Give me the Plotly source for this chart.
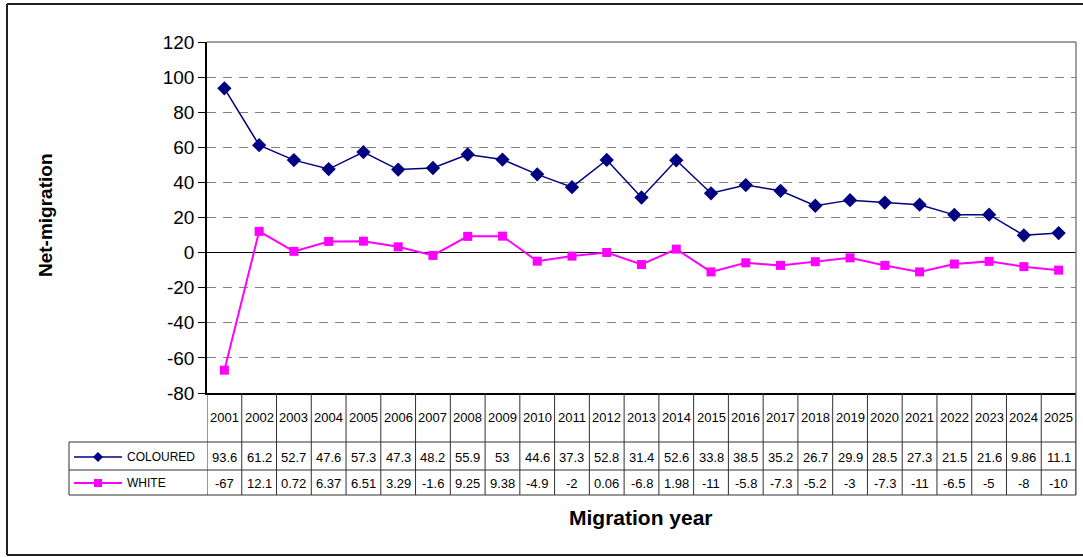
import plotly.graph_objects as go

years = [str(y) for y in range(2001, 2026)]
coloured = [93.6, 61.2, 52.7, 47.6, 57.3, 47.3, 48.2, 55.9, 53, 44.6, 37.3, 52.8, 31.4,
            52.6, 33.8, 38.5, 35.2, 26.7, 29.9, 28.5, 27.3, 21.5, 21.6, 9.86, 11.1]
white = [-67, 12.1, 0.72, 6.37, 6.51, 3.29, -1.6, 9.25, 9.38, -4.9, -2, 0.06, -6.8,
         1.98, -11, -5.8, -7.3, -5.2, -3, -7.3, -11, -6.5, -5, -8, -10]
y_ticks = [-80, -60, -40, -20, 0, 20, 40, 60, 80, 100, 120]

W, H = 1083, 557
def px(x):
    return x / W
def py(y):
    return 1 - y / H

NAVY = "#000080"
MAG = "#FF00FF"
FONT = "Liberation Sans, Arial, sans-serif"
LINE = "#303030"

plot_l, plot_r, plot_t, plot_b = 207, 1076, 42, 393
head_b, row1_b, row2_b, leg_l = 442, 470, 495, 69

fig = go.Figure()
fig.add_trace(go.Scatter(x=years, y=coloured, mode="lines+markers", name="COLOURED",
                         line=dict(color=NAVY, width=1.5),
                         marker=dict(symbol="diamond", size=11, color=NAVY)))
fig.add_trace(go.Scatter(x=years, y=white, mode="lines+markers", name="WHITE",
                         line=dict(color=MAG, width=2),
                         marker=dict(symbol="square", size=9, color=MAG)))

shapes = []
ann = []
# plot border top & right (gray)
shapes.append(dict(type="line", xref="paper", yref="paper", x0=px(plot_l), x1=px(plot_r),
                   y0=py(plot_t), y1=py(plot_t), line=dict(color="#808080", width=1.5)))
shapes.append(dict(type="line", xref="paper", yref="paper", x0=px(plot_r), x1=px(plot_r),
                   y0=py(plot_t), y1=py(row2_b), line=dict(color="#808080", width=1.5)))
# table column separators
for k in range(len(years) + 1):
    shapes.append(dict(type="line", xref="x", yref="paper", x0=k - 0.5, x1=k - 0.5,
                       y0=py(plot_b), y1=py(row2_b), line=dict(color=LINE, width=1)))
# horizontal table lines
for yy in (head_b, row1_b, row2_b):
    shapes.append(dict(type="line", xref="paper", yref="paper", x0=px(leg_l), x1=px(plot_r),
                       y0=py(yy), y1=py(yy), line=dict(color=LINE, width=1)))
shapes.append(dict(type="line", xref="paper", yref="paper", x0=px(leg_l), x1=px(leg_l),
                   y0=py(head_b), y1=py(row2_b), line=dict(color=LINE, width=1)))
# outer border
for (x0, y0, x1, y1) in [(7, 4, 1090, 4), (7, 4, 7, 555), (7, 555, 1090, 555)]:
    shapes.append(dict(type="line", xref="paper", yref="paper", x0=px(x0), x1=px(x1),
                       y0=py(y0), y1=py(y1), line=dict(color="#202020", width=2)))
# legend keys in table
for yy, col, w in ((457, NAVY, 1.5), (483, MAG, 2)):
    shapes.append(dict(type="line", xref="paper", yref="paper", x0=px(74), x1=px(122),
                       y0=py(yy), y1=py(yy), line=dict(color=col, width=w)))
cx, cy = 98, 457
shapes.append(dict(type="path", xref="paper", yref="paper",
                   path=f"M {px(cx-5)},{py(cy)} L {px(cx)},{py(cy-5)} L {px(cx+5)},{py(cy)} L {px(cx)},{py(cy+5)} Z",
                   fillcolor=NAVY, line=dict(color=NAVY, width=0)))
cx, cy = 98, 483
shapes.append(dict(type="rect", xref="paper", yref="paper", x0=px(cx-4), x1=px(cx+4),
                   y0=py(cy-4), y1=py(cy+4), fillcolor=MAG, line=dict(color=MAG, width=0)))

tfont = dict(family=FONT, size=13, color="black")
lfont = dict(family=FONT, size=12, color="black")
ann.append(dict(text="COLOURED", xref="paper", yref="paper", x=px(125), y=py(457),
                xanchor="left", yanchor="middle", showarrow=False, font=lfont))
ann.append(dict(text="WHITE", xref="paper", yref="paper", x=px(125), y=py(483),
                xanchor="left", yanchor="middle", showarrow=False, font=lfont))
for i, yr in enumerate(years):
    ann.append(dict(text=yr, xref="x", yref="paper", x=i, y=py(417), xanchor="center",
                    yanchor="middle", showarrow=False, font=tfont))
    ann.append(dict(text=f"{coloured[i]:g}", xref="x", yref="paper", x=i, y=py(457),
                    xanchor="center", yanchor="middle", showarrow=False, font=tfont))
    ann.append(dict(text=f"{white[i]:g}", xref="x", yref="paper", x=i, y=py(483),
                    xanchor="center", yanchor="middle", showarrow=False, font=tfont))
ann.append(dict(text="<b>Migration year</b>", xref="paper", yref="paper", x=px(641), y=py(517),
                xanchor="center", yanchor="middle", showarrow=False,
                font=dict(family=FONT, size=21, color="black")))
ann.append(dict(text="<b>Net-migration</b>", xref="paper", yref="paper", x=px(45), y=py(215),
                xanchor="center", yanchor="middle", showarrow=False, textangle=-90,
                font=dict(family=FONT, size=19, color="black")))

fig.update_layout(
    width=W, height=H, margin=dict(l=0, r=0, t=0, b=0, autoexpand=False),
    paper_bgcolor="white", plot_bgcolor="white", showlegend=False,
    shapes=shapes, annotations=ann,
    xaxis=dict(domain=[px(plot_l), px(plot_r)], type="category", range=[-0.5, len(years) - 0.5],
               showticklabels=False, ticks="", showgrid=False, zeroline=False, automargin=False,
               showline=True, linecolor="black", linewidth=1.5),
    yaxis=dict(domain=[py(plot_b), py(plot_t)], range=[-80, 120], tickvals=y_ticks,
               ticktext=[str(v) for v in y_ticks], automargin=False,
               ticks="outside", ticklen=7, tickcolor="black", tickwidth=1,
               showline=True, linecolor="black", linewidth=1.5,
               showgrid=True, gridcolor="#808080", griddash="9px,7px", gridwidth=1,
               zeroline=True, zerolinecolor="black", zerolinewidth=1.2,
               tickfont=dict(family=FONT, size=19, color="black")),
)
fig.write_html("out.html", config={"displayModeBar": False},
               post_script="document.body.style.margin='0px';")
